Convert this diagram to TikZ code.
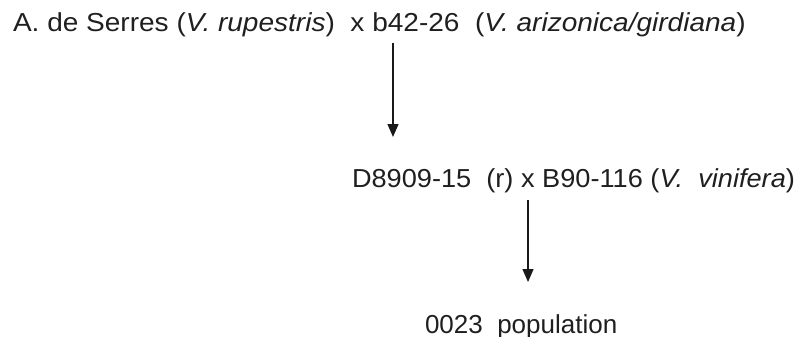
\documentclass[tikz,border=0pt]{standalone}
\usepackage{fontspec}
\setmainfont{Liberation Sans}
\usetikzlibrary{arrows.meta}
\tikzset{
  label/.style={anchor=base west, inner sep=0pt, outer sep=0pt, text=black!88,
    font=\fontsize{26}{30}\selectfont},
  cross/.style={draw=black!90, line width=1.4pt,
    -{Triangle[width=11pt,length=13pt]}}
}
\begin{document}
\begin{tikzpicture}[x=1pt,y=-1pt]
  \useasboundingbox (0,0) rectangle (798,337);
  % parents, first cross
  \node[label] (p1) at (13,32) {\scalebox{1.078}[1]{A. de Serres (\textit{V. rupestris})\ \ x b42-26\ \ (\textit{V. arizonica/girdiana})}};
  % second cross
  \node[label] (p2) at (352,187) {\scalebox{1.045}[1]{D8909-15\ \ (r) x B90-116 (\textit{V.\ \ vinifera})}};
  % offspring
  \node[label] (pop) at (425,333) {0023\ \ population};
  \coordinate (a1s) at (393,43);
  \coordinate (a1e) at (393,137);
  \coordinate (a2s) at (528,200);
  \coordinate (a2e) at (528,282);
  \draw[cross] (a1s) -- (a1e);
  \draw[cross] (a2s) -- (a2e);
\end{tikzpicture}
\end{document}
